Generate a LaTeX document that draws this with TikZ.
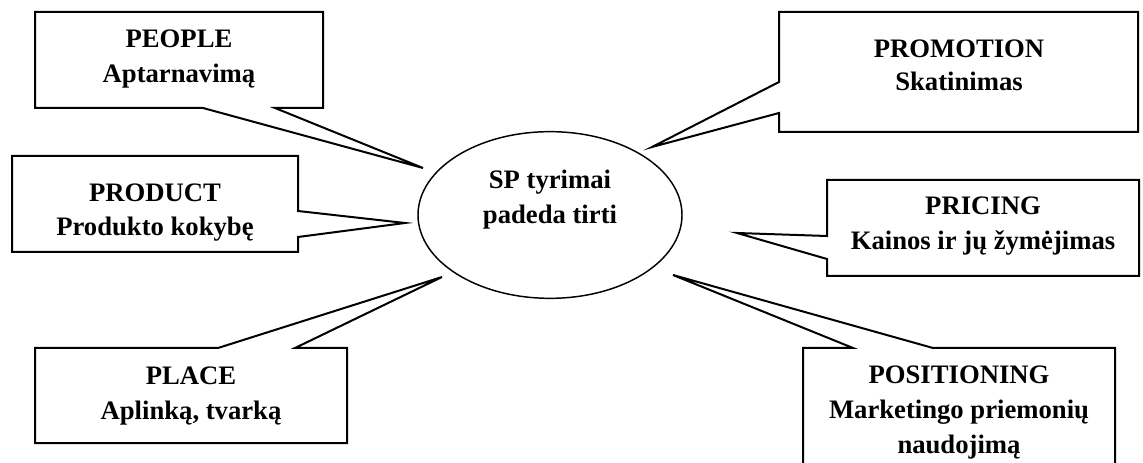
\documentclass[tikz,border=0pt]{standalone}
\usepackage{fontspec}
\setmainfont{Liberation Serif}
\usetikzlibrary{shapes.geometric}
\tikzset{
  callout/.style={draw=black, line width=1.5pt, line join=miter},
  lbl/.style={anchor=base, inner sep=0pt, font=\fontsize{20}{26}\selectfont\bfseries},
  core/.style={draw=black, line width=1.1pt, ellipse, inner sep=0pt}
}
\begin{document}
\begin{tikzpicture}[x=0.75pt, y=-0.75pt]
  % page area
  \clip (0,0) rectangle (1143,463);
  \fill[white] (0,0) rectangle (1143,463);

  % central ellipse
  \node[core, minimum width=198pt, minimum height=125pt] (sp) at (550,215) {};
  \node[lbl] (sp1) at (550,189) {SP tyrimai};
  \node[lbl] (sp2) at (550,224) {padeda tirti};

  % callout boxes, each with its wedge towards the ellipse
  \draw[callout] (35,12) -- (323,12) -- (323,108) -- (275,108) -- (423,168)
        -- (203,108) -- (35,108) -- cycle;
  \draw[callout] (12,156) -- (298,156) -- (298,211) -- (405,223) -- (298,237)
        -- (298,252) -- (12,252) -- cycle;
  \draw[callout] (35,348) -- (218,348) -- (442,277) -- (295,348) -- (347,348)
        -- (347,443) -- (35,443) -- cycle;
  \draw[callout] (779,12) -- (1138,12) -- (1138,132) -- (779,132) -- (779,113)
        -- (652,147) -- (779,82) -- cycle;
  \draw[callout] (827,180) -- (1139,180) -- (1139,276) -- (827,276) -- (827,259)
        -- (737,233) -- (827,236) -- cycle;
  \draw[callout] (803,348) -- (853,348) -- (673,275) -- (933,348) -- (1115,348)
        -- (1115,480) -- (803,480) -- cycle;

  % box texts
  \node[lbl] (people1) at (179,48) {PEOPLE};
  \node[lbl] (people2) at (179,83) {Aptarnavimą};
  \node[lbl] (product1) at (155,202) {PRODUCT};
  \node[lbl] (product2) at (155,236) {Produkto kokybę};
  \node[lbl] (place1) at (191,385) {PLACE};
  \node[lbl] (place2) at (191,420) {Aplinką, tvarką};
  \node[lbl] (promo1) at (959,58) {PROMOTION};
  \node[lbl] (promo2) at (959,91) {Skatinimas};
  \node[lbl] (price1) at (983,215) {PRICING};
  \node[lbl] (price2) at (983,250) {Kainos ir jų žymėjimas};
  \node[lbl] (pos1) at (959,383) {POSITIONING};
  \node[lbl] (pos2) at (959,418) {Marketingo priemonių};
  \node[lbl] (pos3) at (959,453) {naudojimą};
\end{tikzpicture}
\end{document}
